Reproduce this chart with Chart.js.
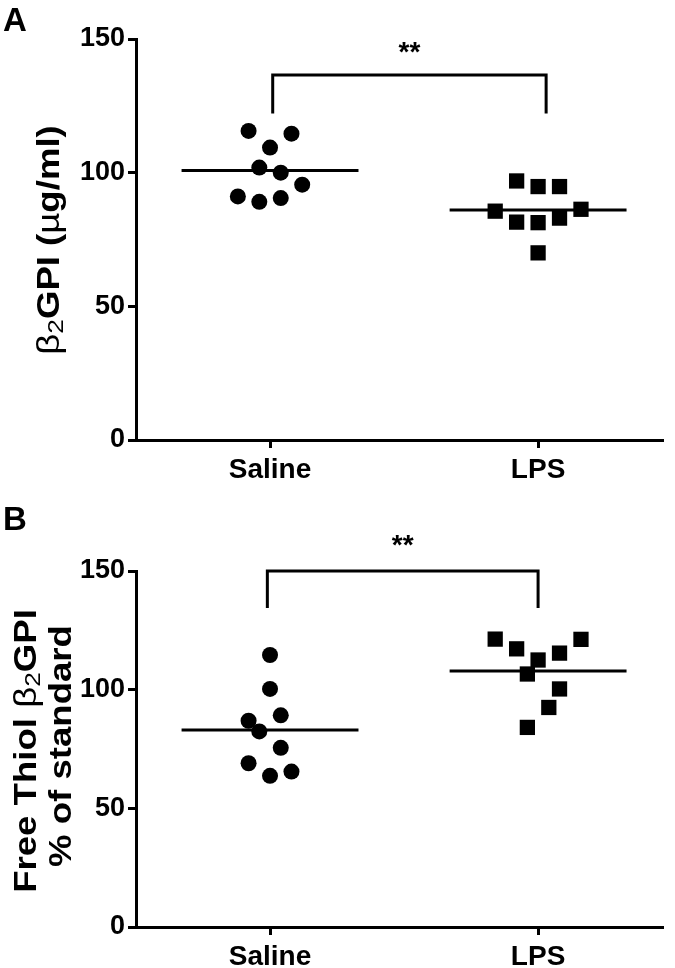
<!DOCTYPE html>
<html>
<head>
<meta charset="utf-8">
<script src="https://cdn.jsdelivr.net/npm/chart.js@4.4.1/dist/chart.umd.min.js"></script>
<style>
  html, body { margin: 0; padding: 0; background: #fff; }
  .panel { position: relative; width: 675px; height: 484px; }
</style>
</head>
<body>
<div class="panel"><canvas id="chartA" width="675" height="484"></canvas></div>
<div class="panel"><canvas id="chartB" width="675" height="484"></canvas></div>
<script>
// Group labels and y ticks
const groups = ['Saline', 'LPS'];
const yTicks = [0, 50, 100, 150];

// Panel A - b2GPI (ug/ml)
const salineA = [115.6, 114.6, 109.4, 101.9, 100.0, 95.5, 91.1, 89.1, 90.5];
const salineAJitter = [-0.08, 0.08, 0, -0.04, 0.04, 0.12, -0.12, -0.04, 0.04];
const lpsA = [96.9, 94.8, 94.8, 85.6, 86.3, 81.5, 81.3, 83.0, 70.0];
const lpsAJitter = [-0.08, 0, 0.08, -0.16, 0.16, -0.08, 0, 0.08, 0];

// Panel B - free thiol b2GPI (% of standard)
const salineB = [114.6, 100.3, 86.9, 89.2, 82.4, 75.5, 69.0, 63.7, 65.5];
const salineBJitter = [0, 0, -0.08, 0.04, -0.04, 0.04, -0.08, 0, 0.08];
const lpsB = [121.3, 117.2, 112.5, 115.4, 121.2, 106.6, 100.3, 92.5, 84.1];
const lpsBJitter = [-0.16, -0.08, 0, 0.08, 0.16, -0.04, 0.08, 0.04, -0.04];

// significance brackets: [left x, right x, top y, bottom y, star y]
const bracketA = [0.01, 1.03, 136.5, 122.7, 144.5];
const bracketB = [-0.01, 1.0, 150, 135, 160.5];

const FONT = "'Liberation Sans', Arial, sans-serif";

function mean(arr) {
    return arr.reduce((a, b) => a + b, 0) / arr.length;
}

function toPoints(values, jitter, groupIndex) {
    return values.map((v, i) => ({ x: groupIndex + jitter[i], y: v }));
}

function meanLine(values, groupIndex) {
    const m = mean(values);
    return [{ x: groupIndex - 0.33, y: m }, { x: groupIndex + 0.33, y: m }];
}

function bracketPoints(b) {
    return [{ x: b[0], y: b[3] }, { x: b[0], y: b[2] }, { x: b[1], y: b[2] }, { x: b[1], y: b[3] }];
}

// draws rotated y title with subscript parts, stars and panel letter
const extrasPlugin = {
    id: 'extras',
    afterDraw(chart) {
        const opts = chart.options.plugins.extras;
        const ctx = chart.ctx;
        const xs = chart.scales.x, ys = chart.scales.y;
        ctx.save();
        ctx.fillStyle = '#000';

        // panel letter
        ctx.font = 'bold 33px ' + FONT;
        ctx.textAlign = 'left';
        ctx.textBaseline = 'alphabetic';
        ctx.fillText(opts.letter, opts.letterPos[0], opts.letterPos[1]);

        // stars
        const b = opts.bracket;
        ctx.font = 'bold 28px ' + FONT;
        ctx.textAlign = 'center';
        ctx.textBaseline = 'middle';
        ctx.fillText('**', xs.getPixelForValue((b[0] + b[1]) / 2), ys.getPixelForValue(b[4]));

        // y axis title lines (stretched a little along their length like the original)
        opts.titleLines.forEach(line => {
            const size = opts.titleSize;
            const parts = line.parts.map(p => {
                const sz = p.sub ? size * 0.72 : size;
                const f = (p.bold ? 'bold ' : '') + sz + 'px ' + FONT;
                ctx.font = f;
                return { t: p.t, f: f, w: ctx.measureText(p.t).width, dy: p.sub ? size * 0.22 : 0 };
            });
            const total = parts.reduce((a, p) => a + p.w, 0);
            ctx.save();
            ctx.translate(line.x, line.y);
            ctx.rotate(-Math.PI / 2);
            ctx.scale(opts.titleStretch, 1);
            ctx.textAlign = 'left';
            ctx.textBaseline = 'middle';
            let cx = -total / 2;
            parts.forEach(p => {
                ctx.font = p.f;
                ctx.fillText(p.t, cx, p.dy);
                cx += p.w;
            });
            ctx.restore();
        });
        ctx.restore();
    }
};

function makeChart(id, saline, salineJitter, lps, lpsJitter, bracket, extras, pad, xHeight) {
    const black = '#000';
    return new Chart(document.getElementById(id), {
        type: 'scatter',
        data: {
            datasets: [
                {
                    data: toPoints(saline, salineJitter, 0),
                    pointStyle: 'circle',
                    pointRadius: 8,
                    backgroundColor: black,
                    borderWidth: 0
                },
                {
                    data: toPoints(lps, lpsJitter, 1),
                    pointStyle: 'rect',
                    pointRadius: 10.8,
                    backgroundColor: black,
                    borderWidth: 0
                },
                {
                    type: 'line',
                    data: meanLine(saline, 0),
                    borderColor: black,
                    borderWidth: 3,
                    pointRadius: 0
                },
                {
                    type: 'line',
                    data: meanLine(lps, 1),
                    borderColor: black,
                    borderWidth: 3,
                    pointRadius: 0
                },
                {
                    type: 'line',
                    data: bracketPoints(bracket),
                    borderColor: black,
                    borderWidth: 3,
                    pointRadius: 0,
                    borderCapStyle: 'square',
                    clip: false
                }
            ]
        },
        options: {
            responsive: false,
            animation: false,
            events: [],
            layout: { padding: pad },
            plugins: {
                legend: { display: false },
                tooltip: { enabled: false },
                extras: extras
            },
            scales: {
                x: {
                    type: 'linear',
                    min: -0.5,
                    max: 1.466,
                    afterBuildTicks: (scale) => {
                        scale.ticks = groups.map((g, i) => ({ value: i }));
                    },
                    afterFit: (scale) => { scale.height = xHeight; },
                    ticks: {
                        color: black,
                        font: { family: FONT, size: 28, weight: 'bold' },
                        padding: 5,
                        callback: (v) => groups[v]
                    },
                    grid: {
                        drawOnChartArea: false,
                        drawTicks: true,
                        tickLength: 8,
                        tickWidth: 3,
                        tickColor: black
                    },
                    border: { display: true, color: black, width: 3 }
                },
                y: {
                    min: 0,
                    max: 150,
                    afterBuildTicks: (scale) => {
                        scale.ticks = yTicks.map(v => ({ value: v }));
                    },
                    afterFit: (scale) => { scale.width = 136; },
                    ticks: {
                        color: black,
                        font: { family: FONT, size: 27, weight: 'bold' },
                        padding: 3
                    },
                    grid: {
                        drawOnChartArea: false,
                        drawTicks: true,
                        tickLength: 8,
                        tickWidth: 3,
                        tickColor: black
                    },
                    border: { display: true, color: black, width: 3 }
                }
            }
        },
        plugins: [extrasPlugin]
    });
}

makeChart('chartA', salineA, salineAJitter, lpsA, lpsAJitter, bracketA, {
    letter: 'A',
    letterPos: [3, 31],
    bracket: bracketA,
    titleSize: 31,
    titleStretch: 1.18,
    titleLines: [
        { x: 50, y: 240, parts: [{ t: 'β' }, { t: '2', sub: true }, { t: 'GPI (', bold: true }, { t: 'µ' }, { t: 'g/ml)', bold: true }] }
    ]
}, { left: 0, top: 39, right: 12, bottom: 0 }, 44);

makeChart('chartB', salineB, salineBJitter, lpsB, lpsBJitter, bracketB, {
    letter: 'B',
    letterPos: [3, 46],
    bracket: bracketB,
    titleSize: 31,
    titleStretch: 1.18,
    titleLines: [
        { x: 27, y: 267, parts: [{ t: 'Free Thiol ', bold: true }, { t: 'β' }, { t: '2', sub: true }, { t: 'GPI', bold: true }] },
        { x: 62, y: 262, parts: [{ t: '% of standard', bold: true }] }
    ]
}, { left: 0, top: 87, right: 12, bottom: 0 }, 41);
</script>
</body>
</html>
